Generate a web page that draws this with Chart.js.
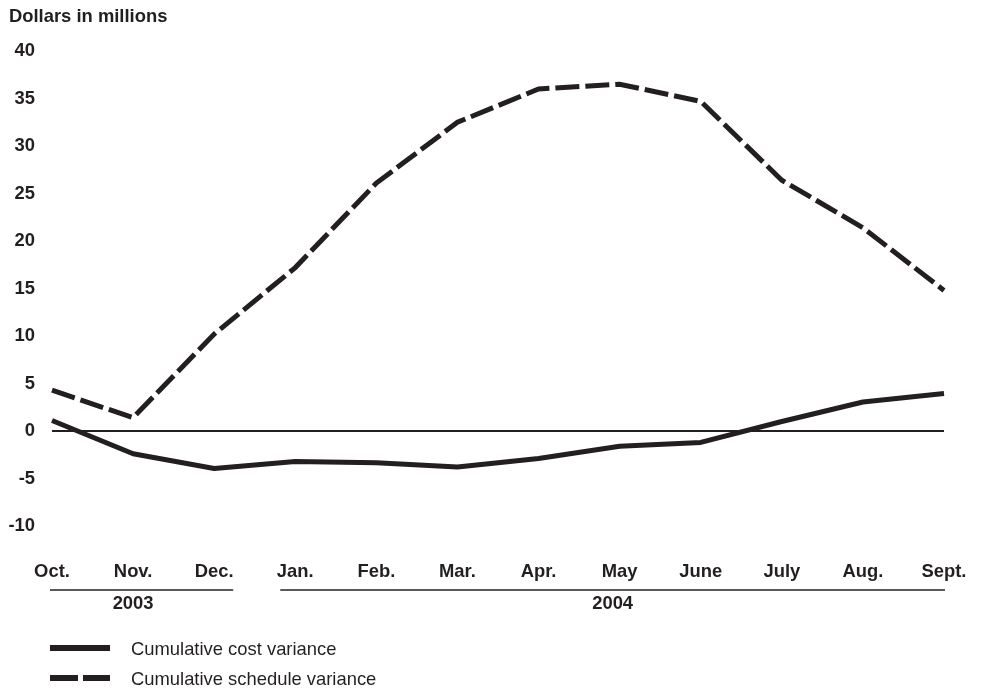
<!DOCTYPE html>
<html>
<head>
<meta charset="utf-8">
<title>Cumulative cost and schedule variance</title>
<script src="https://cdn.jsdelivr.net/npm/chart.js@4.4.1/dist/chart.umd.min.js"></script>
<style>
  html, body { margin: 0; padding: 0; background: #fff; }
  #wrap { width: 982px; height: 694px; }
</style>
</head>
<body>
<div id="wrap"><canvas id="chart" width="982" height="694"></canvas></div>
<script>
// Data (dollars in millions)
const months = ['Oct.', 'Nov.', 'Dec.', 'Jan.', 'Feb.', 'Mar.', 'Apr.', 'May', 'June', 'July', 'Aug.', 'Sept.'];
const costVariance = [1.1, -2.4, -3.95, -3.2, -3.35, -3.8, -2.9, -1.6, -1.2, 1.0, 3.05, 3.95];
const scheduleVariance = [4.3, 1.4, 10.2, 17.2, 26.1, 32.5, 36.0, 36.5, 34.7, 26.4, 21.4, 14.8];
const yearLabels = ['2003', '2004'];
const yearFirstMonth = [0, 3];
const yearLastMonth = [2, 11];
const legendLabels = ['Cumulative cost variance', 'Cumulative schedule variance'];

const ink = '#231f20';
const family = "'Liberation Sans', Arial, Helvetica, sans-serif";

Chart.defaults.font.family = family;
Chart.defaults.color = ink;

// Title, year brackets under the month axis, and the legend
const decorations = {
  id: 'decorations',
  afterDraw(chart) {
    const ctx = chart.ctx;
    const x = chart.scales.x;
    ctx.save();
    ctx.fillStyle = ink;
    ctx.textBaseline = 'middle';

    ctx.font = 'bold 18.4px ' + family;
    ctx.textAlign = 'left';
    ctx.fillText('Dollars in millions', 9, 17);

    // year rules + labels
    ctx.strokeStyle = '#5a5a5a';
    ctx.lineWidth = 2;
    ctx.textAlign = 'center';
    yearLabels.forEach((label, i) => {
      const first = yearFirstMonth[i];
      const last = yearLastMonth[i];
      const left = x.getPixelForValue(first) - (first === 0 ? 2 : 15);
      const right = x.getPixelForValue(last) + (last === months.length - 1 ? 1 : 19);
      ctx.beginPath();
      ctx.moveTo(left, 590);
      ctx.lineTo(right, 590);
      ctx.stroke();
      const cx = i === 0 ? x.getPixelForValue(1) : (left + right) / 2;
      ctx.fillText(label, cx, 604);
    });

    // legend
    ctx.font = '18.4px ' + family;
    ctx.textAlign = 'left';
    chart.data.datasets.forEach((ds, i) => {
      const y = 648 + i * 30;
      ctx.strokeStyle = ds.borderColor;
      ctx.lineWidth = 6;
      ctx.setLineDash(ds.borderDash ? [28, 5] : []);
      ctx.beginPath();
      ctx.moveTo(50, y);
      ctx.lineTo(110, y);
      ctx.stroke();
      ctx.setLineDash([]);
      ctx.fillText(legendLabels[i], 131, y + 2);
    });
    ctx.restore();
  }
};

new Chart(document.getElementById('chart'), {
  type: 'line',
  data: {
    labels: months,
    datasets: [
      {
        label: legendLabels[0],
        data: costVariance,
        borderColor: ink,
        borderWidth: 5,
        pointRadius: 0,
        tension: 0,
        borderJoinStyle: 'round'
      },
      {
        label: legendLabels[1],
        data: scheduleVariance,
        borderColor: ink,
        borderWidth: 5,
        borderDash: [24, 6],
        pointRadius: 0,
        tension: 0
      }
    ]
  },
  options: {
    responsive: false,
    animation: false,
    layout: { padding: { top: 51, right: 38, bottom: 0, left: 0 } },
    plugins: {
      legend: { display: false },
      tooltip: { enabled: false },
      title: { display: false }
    },
    scales: {
      x: {
        offset: false,
        // invisible tick marks push the month labels down without widening the side padding
        grid: { display: true, drawOnChartArea: false, drawTicks: true, tickLength: 32, color: 'rgba(0,0,0,0)' },
        border: { display: false },
        ticks: {
          font: { size: 18.4, weight: 'bold' },
          padding: 3,
          maxRotation: 0,
          autoSkip: false
        },
        afterFit(scale) { scale.height = 168; }
      },
      y: {
        min: -10,
        max: 40,
        grid: {
          drawTicks: false,
          color: ctx => ctx.tick && ctx.tick.value === 0 ? ink : 'rgba(0,0,0,0)',
          lineWidth: 2
        },
        border: { display: false },
        ticks: {
          stepSize: 5,
          font: { size: 18.4, weight: 'bold' },
          padding: 17
        },
        afterFit(scale) { scale.width = 52; }
      }
    }
  },
  plugins: [decorations]
});
</script>
</body>
</html>
